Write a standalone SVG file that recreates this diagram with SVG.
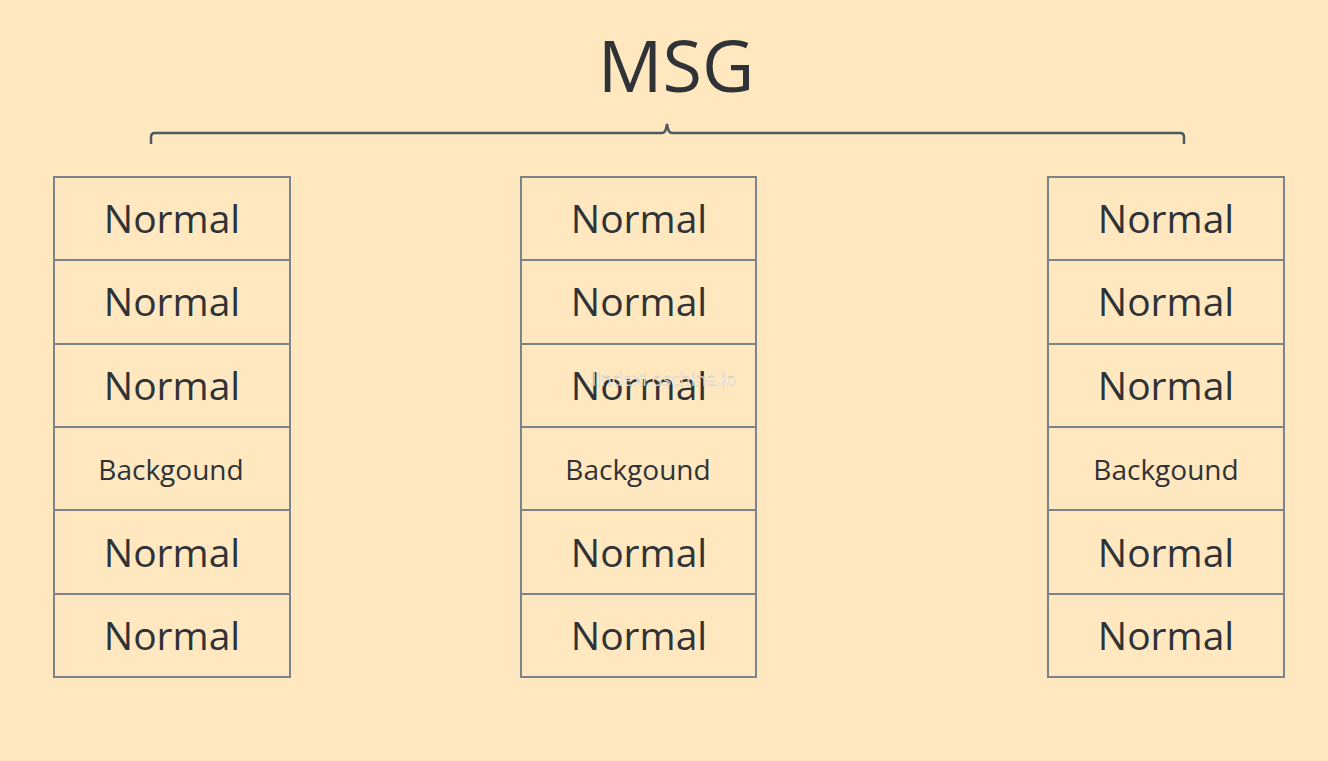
<svg xmlns="http://www.w3.org/2000/svg" width="1328" height="761" viewBox="0 0 1328 761">
<style>
.cell{fill:none;stroke:#7b8589;stroke-width:2}
.t{font-family:"Open Sans","Noto Sans",sans-serif;fill:#2f3337;text-anchor:middle}
.n{font-size:39px}
.b{font-size:28px}
.br{fill:none;stroke:#4b5a63;stroke-width:2.5}
</style>
<rect width="1328" height="761" fill="#ffe8bf"/>
<text class="t" x="676" y="92" font-size="72">MSG</text>
<g id="connectors">
<path class="br" d="M151,144 V137 Q151,133 155,133 H662 Q666,133 667,124 Q668,133 672,133 H1180 Q1184,133 1184,137 V144"/>
</g>
<g id="col1">
<rect class="cell" x="54" y="177" width="236" height="83"/>
<rect class="cell" x="54" y="260" width="236" height="84"/>
<rect class="cell" x="54" y="344" width="236" height="83"/>
<rect class="cell" x="54" y="427" width="236" height="83"/>
<rect class="cell" x="54" y="510" width="236" height="84"/>
<rect class="cell" x="54" y="594" width="236" height="83"/>
<text class="t n" x="172" y="233">Normal</text>
<text class="t n" x="172" y="316">Normal</text>
<text class="t n" x="172" y="400">Normal</text>
<text class="t b" x="171" y="480">Backgound</text>
<text class="t n" x="172" y="567">Normal</text>
<text class="t n" x="172" y="650">Normal</text>
</g>
<g id="col2">
<rect class="cell" x="521" y="177" width="235" height="83"/>
<rect class="cell" x="521" y="260" width="235" height="84"/>
<rect class="cell" x="521" y="344" width="235" height="83"/>
<rect class="cell" x="521" y="427" width="235" height="83"/>
<rect class="cell" x="521" y="510" width="235" height="84"/>
<rect class="cell" x="521" y="594" width="235" height="83"/>
<text class="t n" x="639" y="233">Normal</text>
<text class="t n" x="639" y="316">Normal</text>
<text class="t n" x="639" y="400">Normal</text>
<text class="t b" x="638" y="480">Backgound</text>
<text class="t n" x="639" y="567">Normal</text>
<text class="t n" x="639" y="650">Normal</text>
</g>
<g id="col3">
<rect class="cell" x="1048" y="177" width="236" height="83"/>
<rect class="cell" x="1048" y="260" width="236" height="84"/>
<rect class="cell" x="1048" y="344" width="236" height="83"/>
<rect class="cell" x="1048" y="427" width="236" height="83"/>
<rect class="cell" x="1048" y="510" width="236" height="84"/>
<rect class="cell" x="1048" y="594" width="236" height="83"/>
<text class="t n" x="1166" y="233">Normal</text>
<text class="t n" x="1166" y="316">Normal</text>
<text class="t n" x="1166" y="400">Normal</text>
<text class="t b" x="1166" y="480">Backgound</text>
<text class="t n" x="1166" y="567">Normal</text>
<text class="t n" x="1166" y="650">Normal</text>
</g>
<text x="664" y="386" font-family="'Open Sans',sans-serif" font-size="18" fill="#ffffff" fill-opacity="0.85" stroke="#6b6b6b" stroke-width="0.3" stroke-opacity="0.6" text-anchor="middle">lindexi.oschina.io</text>
</svg>
